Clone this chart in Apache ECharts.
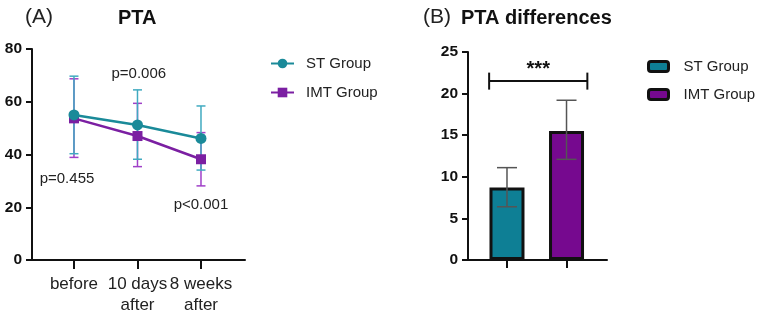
<!DOCTYPE html>
<html>
<head>
<meta charset="utf-8">
<script src="https://cdn.jsdelivr.net/npm/echarts@6/dist/echarts.min.js"></script>
<style>
  html, body { margin: 0; padding: 0; background: #fff; }
  #chart { width: 767px; height: 318px; }
</style>
</head>
<body>
<div id="chart"></div>
<script>
// panel A: PTA over time
const timePoints = ["before", "10 days\nafter", "8 weeks\nafter"];
const stMean = [55.0, 51.2, 46.1];
const stLow = [40.3, 38.2, 34.1];
const stHigh = [69.7, 64.5, 58.4];
const imtMean = [53.7, 47.0, 38.2];
const imtLow = [38.9, 35.4, 28.1];
const imtHigh = [68.7, 59.4, 48.3];
const yTicksA = [0, 20, 40, 60, 80];
// p values: [x position, y value], text by index
const pTexts = ["p=0.455", "p=0.006", "p<0.001"];
const pPos = [[-0.11, 30.7], [1.02, 70.5], [2.0, 20.9]];

// panel B: PTA differences
const groups = ["ST Group", "IMT Group"];
const diffMean = [8.7, 15.5];
const diffLow = [6.4, 12.1];
const diffHigh = [11.1, 19.2];
const yTicksB = [0, 5, 10, 15, 20, 25];
const sigLevel = 21.5;
const sigText = "***";

const FONT = "Arial, 'Liberation Sans', sans-serif";
const stColor = "#1a8a99", stErr = "#40aac0";
const imtColor = "#7b1fa2", imtErr = "#a040c8";
const barColors = ["#0e7f95", "#76098f"];

let myChart = echarts.init(document.getElementById("chart"));

// vertical error bar with caps
function errBars(color, capW, lw) {
  return function (params, api) {
    const x = api.value(0);
    const lo = api.coord([x, api.value(1)]);
    const hi = api.coord([x, api.value(2)]);
    const st = { stroke: color, lineWidth: lw };
    return {
      type: "group",
      children: [
        { type: "line", shape: { x1: lo[0], y1: lo[1], x2: hi[0], y2: hi[1] }, style: st },
        { type: "line", shape: { x1: hi[0] - capW / 2, y1: hi[1], x2: hi[0] + capW / 2, y2: hi[1] }, style: st },
        { type: "line", shape: { x1: lo[0] - capW / 2, y1: lo[1], x2: lo[0] + capW / 2, y2: lo[1] }, style: st },
      ],
    };
  };
}

const axisLineStyle = { color: "#111", width: 2 };
const yLabel = { fontFamily: FONT, fontSize: 15.5, fontWeight: "bold", color: "#111", margin: 10 };

myChart.setOption({
  animation: false,
  textStyle: { fontFamily: FONT },
  title: [
    { text: "(A)", left: 20, top: 2, textStyle: { fontFamily: FONT, fontSize: 21, fontWeight: "normal", color: "#222" } },
    { text: "PTA", left: 113, top: 3, textStyle: { fontFamily: FONT, fontSize: 20, fontWeight: "bold", color: "#111" } },
    { text: "(B)", left: 418, top: 2, textStyle: { fontFamily: FONT, fontSize: 21, fontWeight: "normal", color: "#222" } },
    { text: "PTA differences", left: 456, top: 3, textStyle: { fontFamily: FONT, fontSize: 20, fontWeight: "bold", color: "#111" } },
  ],
  legend: [
    {
      data: ["ST Group", "IMT Group"],
      orient: "vertical",
      left: 270,
      top: 56,
      padding: 0,
      itemWidth: 23,
      itemHeight: 12,
      itemGap: 14,
      textStyle: { fontFamily: FONT, fontSize: 15, color: "#222", padding: [0, 0, 0, 7] },
    },
    {
      data: ["ST Group (B)", "IMT Group (B)"],
      orient: "vertical",
      left: 647,
      top: 59,
      padding: 0,
      itemWidth: 20,
      itemHeight: 10,
      itemGap: 13,
      formatter: (name) => name.replace(" (B)", ""),
      itemStyle: { borderColor: "#111", borderWidth: 3 },
      textStyle: { fontFamily: FONT, fontSize: 15, color: "#222", padding: [0, 0, 0, 10] },
    },
  ],
  grid: [
    { left: 32, top: 49, width: 213, height: 211 },
    { left: 468, top: 52, width: 139, height: 208 },
  ],
  xAxis: [
    {
      gridIndex: 0,
      type: "value",
      min: -0.661,
      max: 2.693,
      splitLine: { show: false },
      axisLine: { onZero: false, lineStyle: axisLineStyle },
      axisTick: { show: true, customValues: [0, 1, 2], length: 9, lineStyle: { color: "#111", width: 2 } },
      axisLabel: {
        customValues: [0, 1, 2],
        formatter: (v) => timePoints[Math.round(v)] || "",
        fontFamily: FONT,
        fontSize: 17,
        color: "#222",
        lineHeight: 21,
        margin: 14,
      },
    },
    {
      gridIndex: 1,
      type: "value",
      min: -0.655,
      max: 1.68,
      splitLine: { show: false },
      axisLine: { onZero: false, lineStyle: axisLineStyle },
      axisTick: { show: true, customValues: [0, 1], length: 8, lineStyle: { color: "#111", width: 2 } },
      axisLabel: { show: false },
    },
  ],
  yAxis: [
    {
      gridIndex: 0,
      type: "value",
      min: yTicksA[0],
      max: yTicksA[yTicksA.length - 1],
      interval: 20,
      splitLine: { show: false },
      axisLine: { show: true, onZero: false, lineStyle: axisLineStyle },
      axisTick: { show: true, length: 6, lineStyle: { color: "#111", width: 2 } },
      axisLabel: yLabel,
    },
    {
      gridIndex: 1,
      type: "value",
      min: yTicksB[0],
      max: yTicksB[yTicksB.length - 1],
      interval: 5,
      splitLine: { show: false },
      axisLine: { show: true, onZero: false, lineStyle: axisLineStyle },
      axisTick: { show: true, length: 6, lineStyle: { color: "#111", width: 2 } },
      axisLabel: yLabel,
    },
  ],
  series: [
    {
      type: "custom",
      xAxisIndex: 0, yAxisIndex: 0,
      renderItem: errBars(imtErr, 9, 1.5),
      encode: { x: 0, y: [1, 2] },
      data: imtLow.map((v, i) => [i, v, imtHigh[i]]),
      z: 1,
    },
    {
      type: "custom",
      xAxisIndex: 0, yAxisIndex: 0,
      renderItem: errBars(stErr, 9, 1.5),
      encode: { x: 0, y: [1, 2] },
      data: stLow.map((v, i) => [i, v, stHigh[i]]),
      z: 1,
    },
    {
      name: "IMT Group",
      type: "line",
      xAxisIndex: 0, yAxisIndex: 0,
      data: imtMean.map((v, i) => [i, v]),
      symbol: "rect",
      symbolSize: 10,
      color: imtColor,
      lineStyle: { width: 2.5, color: imtColor },
      itemStyle: { color: imtColor },
      z: 3,
    },
    {
      name: "ST Group",
      type: "line",
      xAxisIndex: 0, yAxisIndex: 0,
      data: stMean.map((v, i) => [i, v]),
      symbol: "circle",
      symbolSize: 11,
      color: stColor,
      lineStyle: { width: 2.5, color: stColor },
      itemStyle: { color: stColor },
      z: 4,
    },
    {
      type: "custom",
      xAxisIndex: 0, yAxisIndex: 0,
      encode: { x: 0, y: 1 },
      data: pPos.map((p, i) => [p[0], p[1], i]),
      renderItem: (params, api) => {
        const c = api.coord([api.value(0), api.value(1)]);
        return {
          type: "text",
          x: c[0], y: c[1],
          style: { text: pTexts[api.value(2)], fill: "#222", font: "15px " + FONT, align: "center", verticalAlign: "middle" },
        };
      },
      z: 5,
    },
    {
      name: "ST Group (B)",
      type: "bar",
      xAxisIndex: 1, yAxisIndex: 1,
      data: [[0, diffMean[0]]],
      barWidth: 35,
      barGap: "-100%",
      itemStyle: { color: barColors[0], borderColor: "#111", borderWidth: 3 },
    },
    {
      name: "IMT Group (B)",
      type: "bar",
      xAxisIndex: 1, yAxisIndex: 1,
      data: [[1, diffMean[1]]],
      barWidth: 35,
      barGap: "-100%",
      itemStyle: { color: barColors[1], borderColor: "#111", borderWidth: 3 },
    },
    {
      type: "custom",
      xAxisIndex: 1, yAxisIndex: 1,
      renderItem: errBars("#555", 20, 1.5),
      encode: { x: 0, y: [1, 2] },
      data: diffLow.map((v, i) => [i, v, diffHigh[i]]),
      z: 5,
    },
    {
      // significance bracket
      type: "custom",
      xAxisIndex: 1, yAxisIndex: 1,
      encode: { x: [0, 1], y: 2 },
      data: [[-0.3, 1.35, sigLevel]],
      renderItem: (params, api) => {
        const a = api.coord([api.value(0), api.value(2)]);
        const b = api.coord([api.value(1), api.value(2)]);
        const st = { stroke: "#111", lineWidth: 2 };
        return {
          type: "group",
          children: [
            { type: "line", shape: { x1: a[0], y1: a[1], x2: b[0], y2: b[1] }, style: st },
            { type: "line", shape: { x1: a[0], y1: a[1] - 8.5, x2: a[0], y2: a[1] + 8.5 }, style: st },
            { type: "line", shape: { x1: b[0], y1: b[1] - 8.5, x2: b[0], y2: b[1] + 8.5 }, style: st },
            {
              type: "text",
              x: (a[0] + b[0]) / 2, y: a[1] - 12,
              style: { text: sigText, fill: "#111", font: "bold 20px " + FONT, align: "center", verticalAlign: "middle" },
            },
          ],
        };
      },
      z: 5,
    },
  ],
});

window.addEventListener("resize", () => {
  myChart.resize();
});
</script>
</body>
</html>
